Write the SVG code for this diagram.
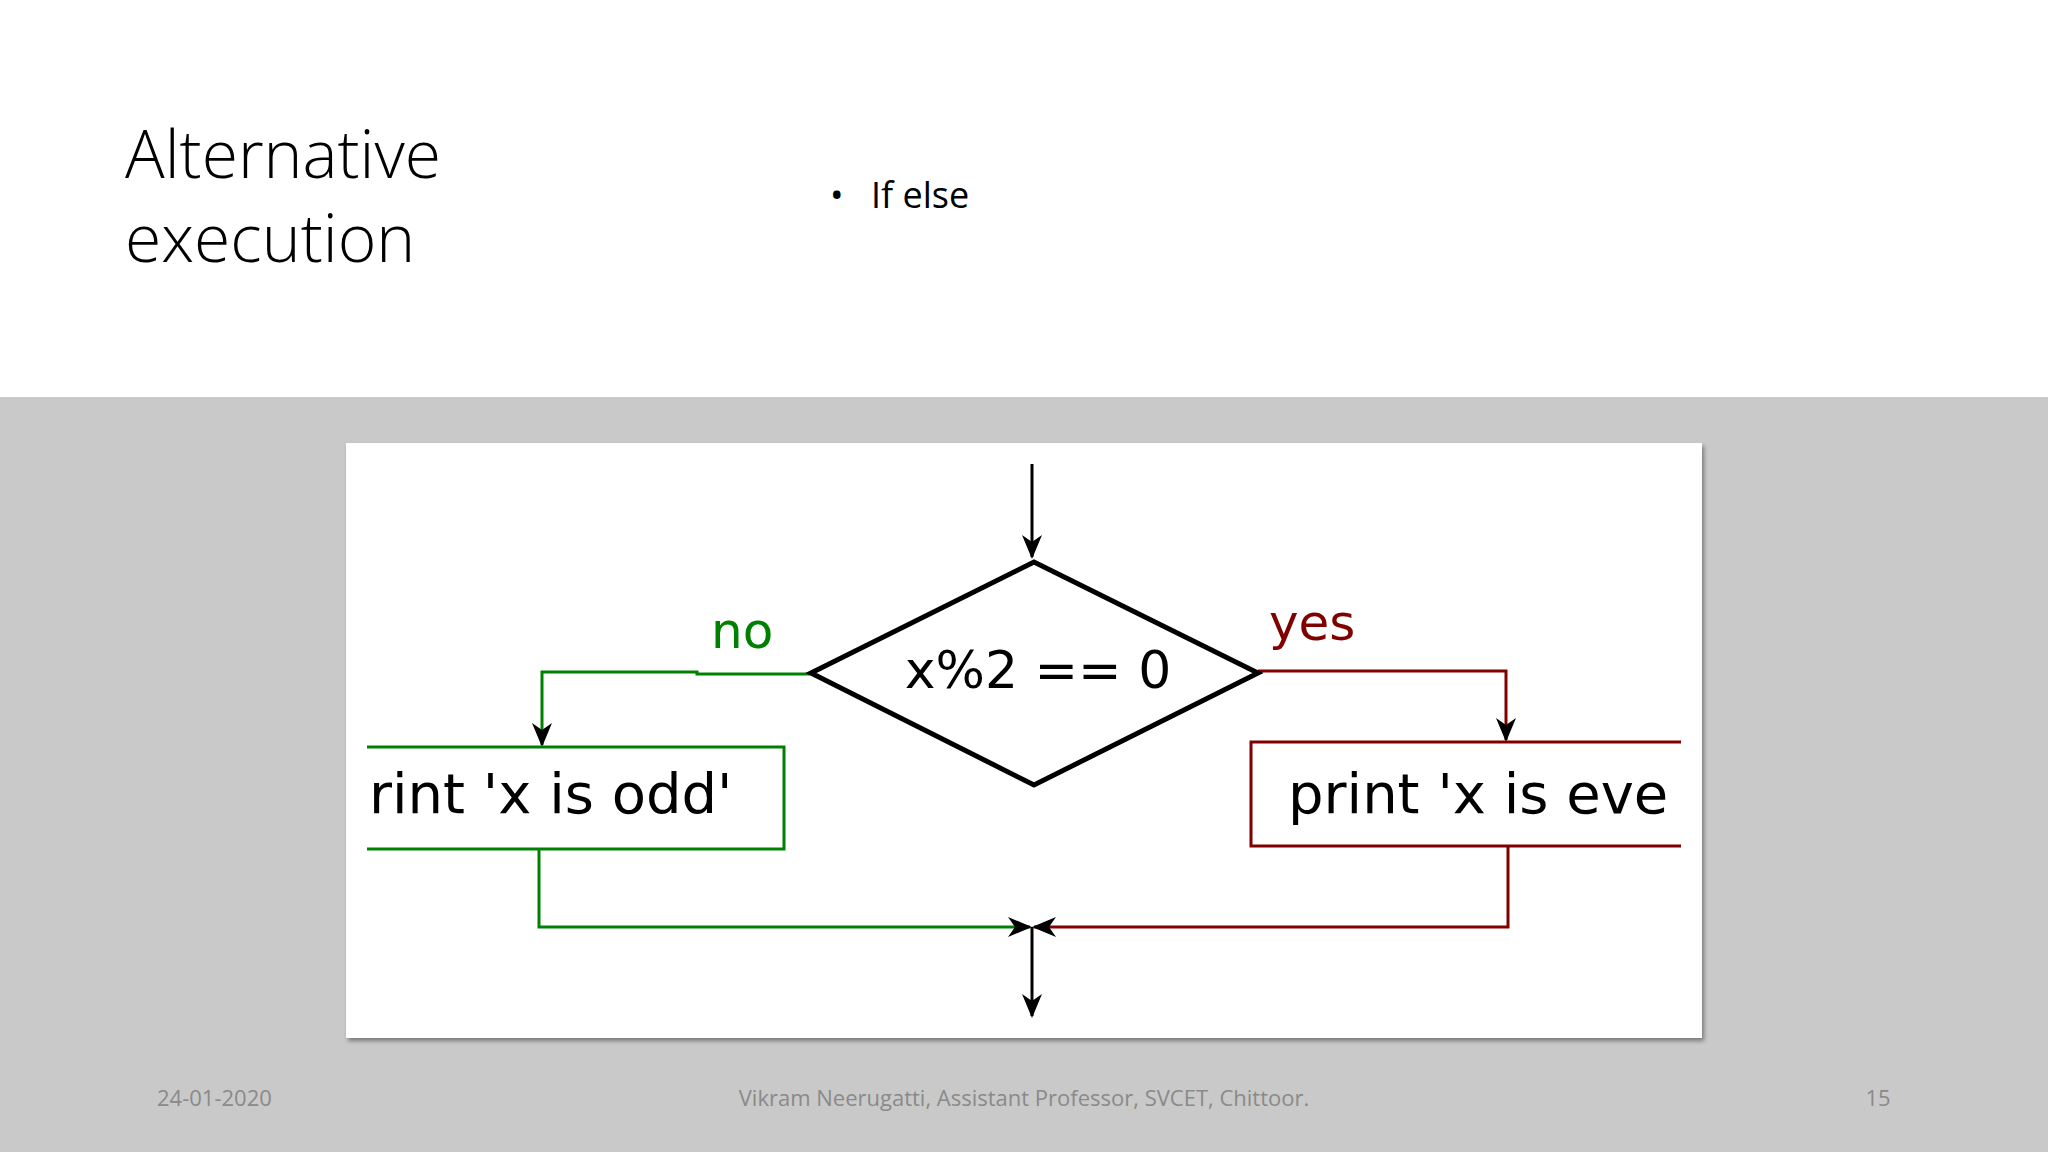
<svg xmlns="http://www.w3.org/2000/svg" width="2048" height="1152" viewBox="0 0 2048 1152">
<style>
.t{font-family:"Liberation Sans","DejaVu Sans",sans-serif}
.f{font-family:"Open Sans","Liberation Sans",sans-serif}
.d{font-family:"DejaVu Sans","Liberation Sans",sans-serif}
.g{stroke:#008000;stroke-width:3;fill:none}
.r{stroke:#800000;stroke-width:3;fill:none}
.k{stroke:#000;stroke-width:3;fill:none}
</style>
<defs>
<marker id="a" viewBox="0 0 12 12" refX="11" refY="6" markerWidth="12" markerHeight="12" markerUnits="userSpaceOnUse" orient="auto"><path d="M0,0 L12,6 L0,12 L4,6 Z" fill="#000"/></marker>
<marker id="b" viewBox="0 0 24 24" refX="22" refY="12" markerWidth="24" markerHeight="24" markerUnits="userSpaceOnUse" orient="auto"><path d="M0,2 L24,12 L0,22 L7,12 Z" fill="#000"/></marker>
<filter id="s"><feDropShadow dx="2" dy="3" stdDeviation="2" flood-opacity="0.4"/></filter>
</defs>
<rect width="2048" height="1152" fill="#fff"/>
<rect y="397" width="2048" height="755" fill="#c9c9c9"/>
<text x="125" y="178" class="f" font-size="66" font-weight="300" fill="#000">Alternative</text>
<text x="125" y="262" class="f" font-size="66" font-weight="300" fill="#000">execution</text>
<text x="830" y="208" class="f" font-size="36" fill="#000">•</text>
<text x="871" y="208" class="f" font-size="36" fill="#000">If else</text>
<rect x="346" y="443" width="1356" height="595" fill="#fff" filter="url(#s)"/>
<g id="connectors">
<path class="k" d="M1032,464 V557" marker-end="url(#b)"/>
<path class="g" d="M811,674 H697 V672 H542 V745" marker-end="url(#b)"/>
<path class="r" d="M1258,671 H1506 V740" marker-end="url(#b)"/>
<path class="g" d="M539,849 V927 H1030" marker-end="url(#b)"/>
<path class="r" d="M1508,846 V927 H1034" marker-end="url(#b)"/>
<path class="k" d="M1032,927 V1016" marker-end="url(#b)"/>
</g>
<g id="decision">
<polygon points="811,673 1034,562 1258,673 1034,785" fill="#fff" stroke="#000" stroke-width="5"/>
<text x="1038" y="688" text-anchor="middle" class="d" font-size="52">x%2 == 0</text>
</g>
<g id="labels">
<text x="711" y="648" class="d" font-size="50" fill="#008000">no</text>
<text x="1269" y="640" class="d" font-size="50" fill="#800000">yes</text>
</g>
<g id="odd">
<path class="g" d="M367,747 H784 V849 H367"/>
<text x="369" y="813" class="d" font-size="56">rint 'x is odd'</text>
</g>
<g id="even">
<path class="r" d="M1681,742 H1251 V846 H1681"/>
<text x="1288" y="813" class="d" font-size="56">print 'x is eve</text>
</g>
<text x="157" y="1106" class="f" font-size="22" fill="#8a8a8a">24-01-2020</text>
<text x="1024" y="1106" class="f" font-size="22" fill="#8a8a8a" text-anchor="middle">Vikram Neerugatti, Assistant Professor, SVCET, Chittoor.</text>
<text x="1878" y="1106" class="f" font-size="22" fill="#8a8a8a" text-anchor="middle">15</text>
</svg>
